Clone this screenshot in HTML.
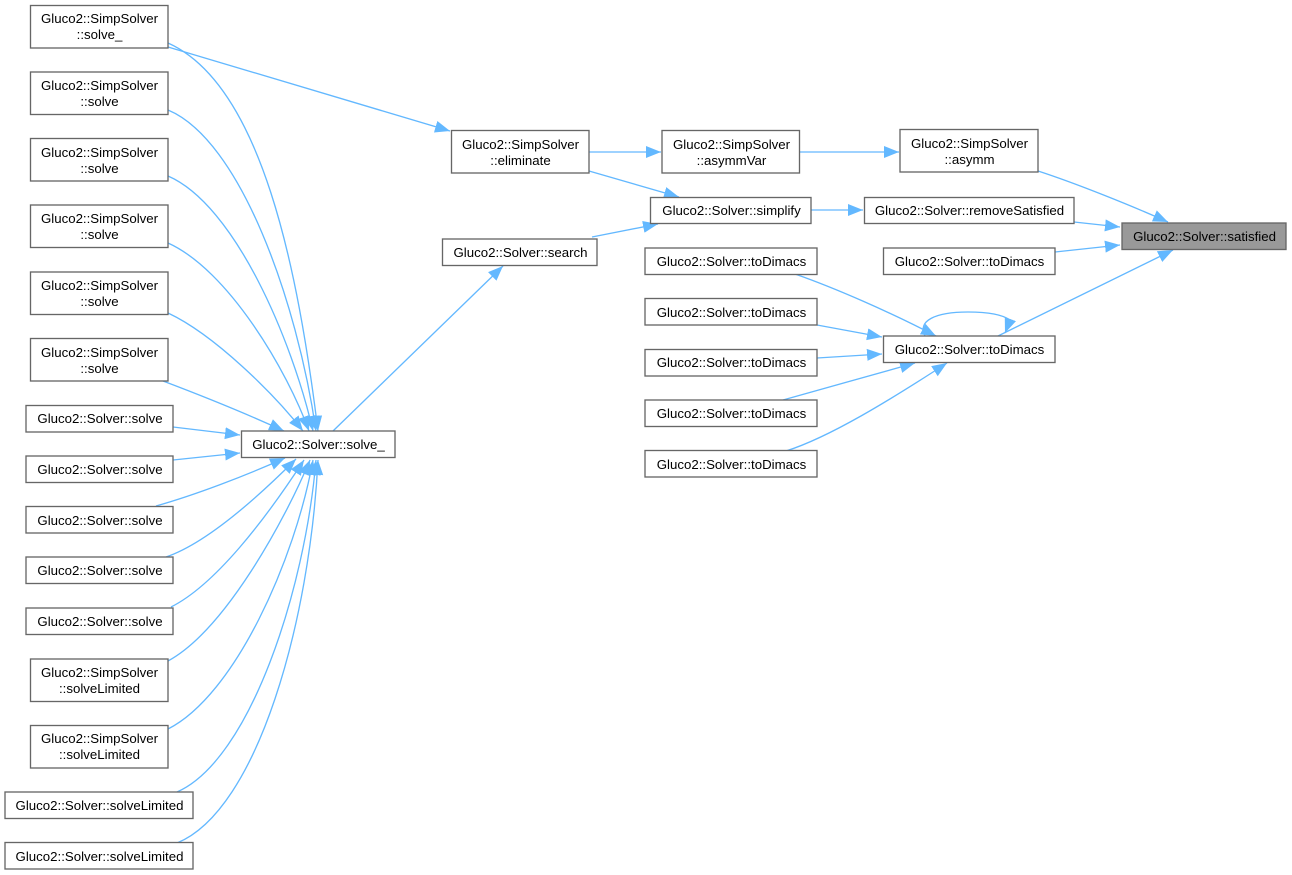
<!DOCTYPE html>
<html><head><meta charset="utf-8"><style>
html,body{margin:0;padding:0;background:#fff}
svg{display:block}
.b{fill:#fff;stroke:#666;stroke-width:1.33}
.e{fill:none;stroke:#63b8ff;stroke-width:1.33;marker-end:url(#a)}
text{font-family:"Liberation Sans",sans-serif;font-size:13.25px;fill:#000;text-anchor:middle;transform:translate(.5px,0)}
</style></head><body>
<svg width="1292" height="875" viewBox="0 0 1292 875" xmlns="http://www.w3.org/2000/svg">
<defs><marker id="a" markerUnits="userSpaceOnUse" markerWidth="17" markerHeight="14" refX="15" refY="6.500" orient="auto"><path d="M0,0.500 L15,6.500 L0,12.500 Z" fill="#63b8ff"/></marker></defs>

<g>
<path class="e" d="M168,43 C262,85 298,270 318,431"/>
<path class="e" d="M168,110 C240,140 297,300 316,431"/>
<path class="e" d="M168,176 C235,205 292,340 313,431"/>
<path class="e" d="M168,243 C228,270 287,370 309,431"/>
<path class="e" d="M168,313 C215,335 275,395 303,431"/>
<path class="e" d="M163,381 C200,395 245,413 284,431"/>
<path class="e" d="M173,427 L240,435"/>
<path class="e" d="M173,460 L240,453"/>
<path class="e" d="M156,506 C195,495 245,476 285,458"/>
<path class="e" d="M166,557 C210,542 265,490 296,459"/>
<path class="e" d="M171,607 C215,585 265,520 304,460"/>
<path class="e" d="M168,661 C225,630 285,520 310,460"/>
<path class="e" d="M168,729 C235,695 295,560 313,460"/>
<path class="e" d="M177,792 C250,760 305,590 316,460"/>
<path class="e" d="M177,843 C258,810 310,620 318,460"/>
<path class="e" d="M168,47 L450,131"/>
<path class="e" d="M333,431 L503,266"/>
<path class="e" d="M589,152 L661,152"/>
<path class="e" d="M800,152 L899,152"/>
<path class="e" d="M589,171 L679,197"/>
<path class="e" d="M592,237 L658,224"/>
<path class="e" d="M811,210 L863,210"/>
<path class="e" d="M1038,171 C1075,183 1130,205 1168,222"/>
<path class="e" d="M1074,222 L1120,227"/>
<path class="e" d="M1055,252 L1120,245"/>
<path class="e" d="M998,336 L1173,250"/>
<path class="e" d="M925,336 C917,321 935,312 968,312 C990,312 1003,315 1010,320 L1005,333"/>
<path class="e" d="M795,274 C835,288 890,312 936,336"/>
<path class="e" d="M817,325 L882,337"/>
<path class="e" d="M817,358 L882,354"/>
<path class="e" d="M783,400 L915,363"/>
<path class="e" d="M786,451 C830,437 890,400 947,363"/>
</g>

<g>
<rect class="b" x="30.500" y="5.500" width="137.500" height="42.500"/><text x="99" y="23">Gluco2::SimpSolver</text><text x="99" y="39">::solve_</text>
<rect class="b" x="30.500" y="72" width="137.500" height="42.500"/><text x="99" y="90">Gluco2::SimpSolver</text><text x="99" y="106">::solve</text>
<rect class="b" x="30.500" y="138.500" width="137.500" height="42.500"/><text x="99" y="157">Gluco2::SimpSolver</text><text x="99" y="173">::solve</text>
<rect class="b" x="30.500" y="205" width="137.500" height="42.500"/><text x="99" y="223">Gluco2::SimpSolver</text><text x="99" y="239">::solve</text>
<rect class="b" x="30.500" y="272" width="137.500" height="42.500"/><text x="99" y="290">Gluco2::SimpSolver</text><text x="99" y="306">::solve</text>
<rect class="b" x="30.500" y="338.500" width="137.500" height="42.500"/><text x="99" y="357">Gluco2::SimpSolver</text><text x="99" y="373">::solve</text>
<rect class="b" x="26" y="405.500" width="147" height="26.500"/><text x="99.500" y="423">Gluco2::Solver::solve</text>
<rect class="b" x="26" y="456" width="147" height="26.500"/><text x="99.500" y="474">Gluco2::Solver::solve</text>
<rect class="b" x="26" y="506.500" width="147" height="26.500"/><text x="99.500" y="525">Gluco2::Solver::solve</text>
<rect class="b" x="26" y="557" width="147" height="26.500"/><text x="99.500" y="575">Gluco2::Solver::solve</text>
<rect class="b" x="26" y="608" width="147" height="26.500"/><text x="99.500" y="626">Gluco2::Solver::solve</text>
<rect class="b" x="30.500" y="659" width="137.500" height="42.500"/><text x="99" y="677">Gluco2::SimpSolver</text><text x="99" y="693">::solveLimited</text>
<rect class="b" x="30.500" y="725.500" width="137.500" height="42.500"/><text x="99" y="743">Gluco2::SimpSolver</text><text x="99" y="759">::solveLimited</text>
<rect class="b" x="5" y="792" width="188" height="26.500"/><text x="99" y="810">Gluco2::Solver::solveLimited</text>
<rect class="b" x="5" y="842.500" width="188" height="26.500"/><text x="99" y="861">Gluco2::Solver::solveLimited</text>
<rect class="b" x="241.500" y="431" width="153.500" height="26.500"/><text x="318" y="449">Gluco2::Solver::solve_</text>
<rect class="b" x="442.500" y="239" width="154.500" height="26.500"/><text x="520" y="257">Gluco2::Solver::search</text>
<rect class="b" x="451.500" y="130.500" width="137.500" height="42.500"/><text x="520" y="149">Gluco2::SimpSolver</text><text x="520" y="165">::eliminate</text>
<rect class="b" x="662" y="130.500" width="137.500" height="42.500"/><text x="731" y="149">Gluco2::SimpSolver</text><text x="731" y="165">::asymmVar</text>
<rect class="b" x="650.500" y="197.500" width="160.500" height="26"/><text x="731" y="215">Gluco2::Solver::simplify</text>
<rect class="b" x="645" y="248" width="172" height="26.500"/><text x="731" y="266">Gluco2::Solver::toDimacs</text>
<rect class="b" x="645" y="298.500" width="172" height="26.500"/><text x="731" y="317">Gluco2::Solver::toDimacs</text>
<rect class="b" x="645" y="349.500" width="172" height="26.500"/><text x="731" y="367">Gluco2::Solver::toDimacs</text>
<rect class="b" x="645" y="400" width="172" height="26.500"/><text x="731" y="418">Gluco2::Solver::toDimacs</text>
<rect class="b" x="645" y="450.500" width="172" height="26.500"/><text x="731" y="469">Gluco2::Solver::toDimacs</text>
<rect class="b" x="900" y="129.500" width="138" height="42.500"/><text x="969" y="148">Gluco2::SimpSolver</text><text x="969" y="164">::asymm</text>
<rect class="b" x="864.500" y="197.500" width="209.500" height="26"/><text x="969" y="215">Gluco2::Solver::removeSatisfied</text>
<rect class="b" x="883.500" y="248" width="171.500" height="26.500"/><text x="969" y="266">Gluco2::Solver::toDimacs</text>
<rect class="b" x="883.500" y="336" width="171.500" height="26.500"/><text x="969" y="354">Gluco2::Solver::toDimacs</text>
<rect x="1122" y="223" width="164" height="26.500" fill="#999" stroke="#666" stroke-width="1.330"/><text x="1204" y="241">Gluco2::Solver::satisfied</text>
</g>
</svg>
</body></html>
